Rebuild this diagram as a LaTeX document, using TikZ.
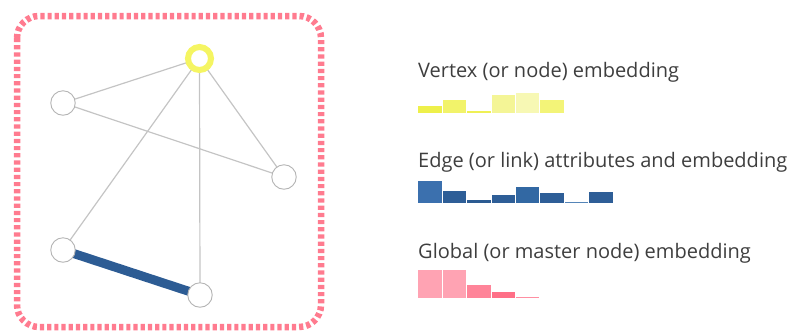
\documentclass[tikz,border=0pt]{standalone}
\usepackage{fontspec}
\setmainfont{Open Sans}
\usetikzlibrary{backgrounds}
\definecolor{frame}{HTML}{FF7B8F}
\definecolor{ring}{HTML}{F5F562}
\definecolor{vborder}{HTML}{B4B4B4}
\definecolor{link}{HTML}{C4C4C4}
\definecolor{thick}{HTML}{2D5C94}
\definecolor{label}{HTML}{3E3E3E}
\tikzset{
  vertex/.style={circle, draw=vborder, line width=0.9pt, fill=white, minimum size=24.5pt, inner sep=0pt},
  hub/.style={circle, draw=ring, line width=6pt, fill=white, minimum size=23pt, inner sep=0pt},
  linkline/.style={draw=link, line width=1.2pt},
  heavy/.style={draw=thick, line width=9pt},
  caption/.style={anchor=base west, inner sep=0pt, text=label, font=\fontsize{20}{22}\selectfont}
}
\begin{document}
\begin{tikzpicture}[x=1pt, y=-1pt]
  \useasboundingbox (0,0) rectangle (792,333);
  % global frame
  \draw[frame, line width=6.5pt, dash pattern=on 4.2pt off 3pt, rounded corners=22pt]
    (17,16) rectangle (321,327);

  % graph vertices
  \node[hub]    (v0) at (199.5,58.5) {};
  \node[vertex] (v1) at (63,103) {};
  \node[vertex] (v2) at (284,177) {};
  \node[vertex] (v3) at (63,250) {};
  \node[vertex] (v4) at (200,295) {};

  % graph edges, drawn under the vertices
  \begin{pgfonlayer}{background}
    \draw[linkline] (v0.center) -- (v1.center);
    \draw[linkline] (v0.center) -- (v2.center);
    \draw[linkline] (v0.center) -- (v3.center);
    \draw[linkline] (v0.center) -- (v4.center);
    \draw[linkline] (v1.center) -- (v2.center);
    \draw[heavy] (v3.center) -- (v4.center);
  \end{pgfonlayer}

  % legend captions
  \node[caption] (t1) at (418,77) {Vertex (or node) embedding};
  \node[caption] (t2) at (418,167) {Edge (or link) attributes and embedding};
  \node[caption] (t3) at (418,258) {Global (or master node) embedding};

  % embedding bars: height/colour
  \foreach \h/\c [count=\i from 0] in {6.5/EEF04A, 12.7/F2F36A, 2/EFF055, 17.7/F4F596, 20/F7F8B4, 12.7/F3F478} {
    \definecolor{barc}{HTML}{\c}
    \fill[barc] (418.3+\i*24.4,112.7) rectangle ++(23.4,-\h);
  }
  \foreach \h/\c [count=\i from 0] in {22.3/3B70AE, 12.7/2E5E97, 3.3/2C5B92, 8.3/2E5E97, 16/3268A3, 10/2E5E97, 1.7/5585B8, 11.3/2E5E97} {
    \definecolor{barc}{HTML}{\c}
    \fill[barc] (418.3+\i*24.4,203.3) rectangle ++(23.4,-\h);
  }
  \foreach \h/\c [count=\i from 0] in {28.3/FFA3B3, 28.3/FFA3B3, 13.3/FF8499, 6/FF6F87, 1/FF8FA2} {
    \definecolor{barc}{HTML}{\c}
    \fill[barc] (418.3+\i*24.4,298.3) rectangle ++(23.4,-\h);
  }
\end{tikzpicture}
\end{document}
